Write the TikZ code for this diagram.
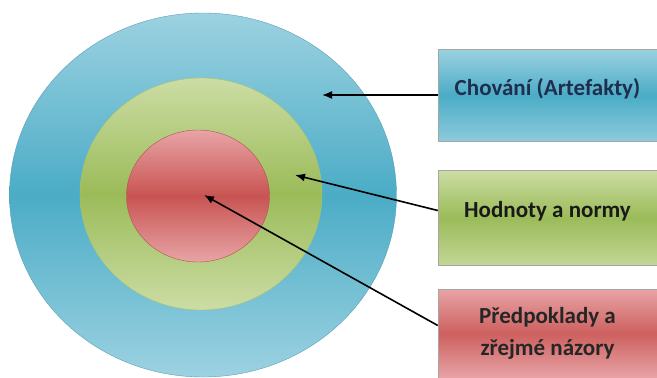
\documentclass[tikz,border=0pt]{standalone}
\usepackage{fontspec}
\setmainfont{Carlito}
\usetikzlibrary{shapes.geometric,arrows.meta}
\definecolor{blueL}{HTML}{9CD2E1}
\definecolor{blueM}{HTML}{4BACC6}
\definecolor{blueD}{HTML}{5C9FB6}
\definecolor{greenL}{HTML}{CCDDA4}
\definecolor{greenM}{HTML}{9BBB59}
\definecolor{greenD}{HTML}{A9C46E}
\definecolor{redL}{HTML}{E8A4A6}
\definecolor{redM}{HTML}{C85452}
\definecolor{redD}{HTML}{B4504E}
\definecolor{navy}{HTML}{1F2D4E}

\begin{document}
\begin{tikzpicture}[x=1pt,y=-1pt,
        ring/.style={ellipse, inner sep=0pt, thin},
        box/.style={rectangle, draw=gray!70, thin, minimum width=219pt, align=center,
            font=\fontsize{23}{32}\selectfont\bfseries},
        lift/.style={text height=16pt, text depth=16pt},
        pointer/.style={-{Latex[length=10pt,width=8pt]}, line width=1.6pt, black},
        ]
        \useasboundingbox (0,0) rectangle (657,378);

        \node (outer) at (203,195) [ring, minimum width=387pt, minimum height=364pt,
            top color=blueL, bottom color=blueL, middle color=blueM, draw=blueD] {};
        \node (middle) at (201,194) [ring, minimum width=242pt, minimum height=232pt,
            top color=greenL, bottom color=greenL, middle color=greenM, draw=greenD] {};
        \node (inner) at (198,196) [ring, minimum width=143pt, minimum height=132pt,
            top color=redL, bottom color=redL, middle color=redM, draw=redD] {};

        \coordinate (tip1) at (322,95);
        \coordinate (tip2) at (295,175);
        \coordinate (tip3) at (204,195);

        \node (behav) at (547.5,95) [box, lift, minimum height=92pt, text=navy,
            top color=blueL, bottom color=blueL!80!blueM, middle color=blueM] {Chování (Artefakty)};
        \node (values) at (547.5,217.5) [box, lift, minimum height=95pt, text=black!90,
            top color=greenL, bottom color=greenL!80!greenM, middle color=greenM] {Hodnoty a normy};
        \node (assume) at (547.5,333.5) [box, minimum height=89pt, text=black!85,
            top color=redL, bottom color=redL, middle color=redM!85!redL] {Předpoklady a\\zřejmé názory};

        \draw [pointer] (behav.west) -- (tip1);
        \draw [pointer] ([yshift=7pt]values.west) -- (tip2);
        \draw [pointer] ([yshift=8pt]assume.west) -- (tip3);

    \end{tikzpicture}
\end{document}
